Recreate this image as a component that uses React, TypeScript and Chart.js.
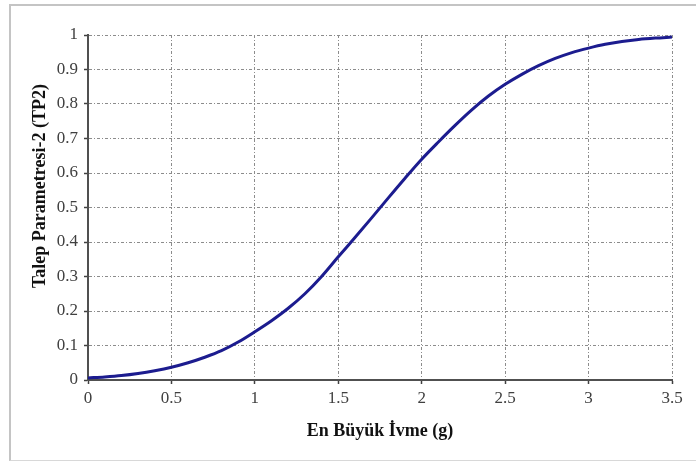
import React, { useEffect, useRef } from "react";
import { Chart, registerables } from "chart.js";

Chart.register(...registerables);

const xValues = [0, 0.1, 0.2, 0.3, 0.4, 0.5, 0.6, 0.7, 0.8, 0.9, 1.0, 1.1, 1.2, 1.3, 1.4, 1.5, 1.6, 1.7, 1.8, 1.9, 2.0, 2.1, 2.2, 2.3, 2.4, 2.5, 2.6, 2.7, 2.8, 2.9, 3.0, 3.1, 3.2, 3.3, 3.4, 3.5];
const tp2Values = [0.006, 0.009, 0.013, 0.019, 0.027, 0.037, 0.05, 0.066, 0.085, 0.11, 0.14, 0.172, 0.208, 0.25, 0.30, 0.357, 0.413, 0.47, 0.528, 0.585, 0.64, 0.69, 0.738, 0.783, 0.823, 0.857, 0.886, 0.911, 0.932, 0.949, 0.962, 0.973, 0.981, 0.987, 0.991, 0.994];
const xTickLabels = ["0", "0.5", "1", "1.5", "2", "2.5", "3", "3.5"];
const yTickLabels = ["0", "0.1", "0.2", "0.3", "0.4", "0.5", "0.6", "0.7", "0.8", "0.9", "1"];
const xTitle = "En Büyük İvme (g)";
const yTitle = "Talep Parametresi-2 (TP2)";

const FONT = "'Liberation Serif', 'Times New Roman', serif";

const yTitlePlugin = {
  id: "yTitlePlugin",
  afterDraw(chart: any) {
    const ctx = chart.ctx;
    ctx.save();
    ctx.translate(40, 186);
    ctx.rotate(-Math.PI / 2);
    ctx.font = `bold 18px ${FONT}`;
    ctx.fillStyle = "#111";
    ctx.textAlign = "center";
    ctx.textBaseline = "middle";
    ctx.fillText(yTitle, 0, 0);
    ctx.restore();
  },
};

export default function App() {
  const ref = useRef<HTMLCanvasElement>(null);
  useEffect(() => {
    if (!ref.current) return;
    const chart = new Chart(ref.current, {
      type: "line",
      data: {
        datasets: [
          {
            data: xValues.map((x, i) => ({ x, y: tp2Values[i] })),
            borderColor: "#1c1c8f",
            borderWidth: 3,
            pointRadius: 0,
            cubicInterpolationMode: "monotone",
            fill: false,
          },
        ],
      },
      plugins: [yTitlePlugin],
      options: {
        animation: false,
        responsive: false,
        maintainAspectRatio: false,
        layout: { padding: { left: 20, top: 35, right: 24, bottom: 14 } },
        plugins: { legend: { display: false }, tooltip: { enabled: false } },
        scales: {
          x: {
            type: "linear",
            min: 0,
            max: 3.5,
            afterBuildTicks: (s: any) => {
              s.ticks = xTickLabels.map((t) => ({ value: parseFloat(t) }));
            },
            afterFit: (s: any) => {
              s.height = 67;
            },
            ticks: {
              callback: (v: any) => xTickLabels.find((t) => parseFloat(t) === v) ?? "",
              color: "#404040",
              font: { family: FONT, size: 17 },
              padding: 4,
              maxRotation: 0,
            },
            grid: {
              color: "#8c8c8c",
              lineWidth: 1,
              tickLength: 4,
              tickColor: "#404040",
              tickWidth: 1.5,
              tickBorderDash: [],
            },
            border: { display: true, color: "#505050", width: 2, dash: [3, 2, 1, 2] },
            title: {
              display: true,
              text: xTitle,
              color: "#111",
              font: { family: FONT, size: 18, weight: "bold" },
              padding: { top: 4, bottom: 5 },
            },
          },
          y: {
            type: "linear",
            min: 0,
            max: 1,
            afterBuildTicks: (s: any) => {
              s.ticks = yTickLabels.map((t) => ({ value: parseFloat(t) }));
            },
            afterFit: (s: any) => {
              s.width = 68;
            },
            ticks: {
              callback: (v: any) => yTickLabels.find((t) => Math.abs(parseFloat(t) - v) < 1e-9) ?? "",
              color: "#404040",
              font: { family: FONT, size: 17 },
              padding: 6,
            },
            grid: {
              color: "#8c8c8c",
              lineWidth: 1,
              tickLength: 4,
              tickColor: "#404040",
              tickWidth: 1.5,
              tickBorderDash: [],
            },
            border: { display: true, color: "#505050", width: 2, dash: [3, 2, 1, 2] },
            title: { display: false },
          },
        },
      },
    });
    return () => chart.destroy();
  }, []);
  return (
    <div style={{ position: "absolute", left: 0, top: 0, width: 696, height: 461, background: "#fff", overflow: "hidden" }}>
      <div
        style={{
          position: "absolute",
          left: 9,
          top: 4,
          width: 720,
          height: 457,
          borderLeft: "2px solid #c4c4c4",
          borderTop: "2px solid #c4c4c4",
          borderBottom: "1px solid #d8d8d8",
          boxSizing: "border-box",
        }}
      />
      <canvas ref={ref} width={696} height={461} style={{ position: "absolute", left: 0, top: 0 }} />
    </div>
  );
}
